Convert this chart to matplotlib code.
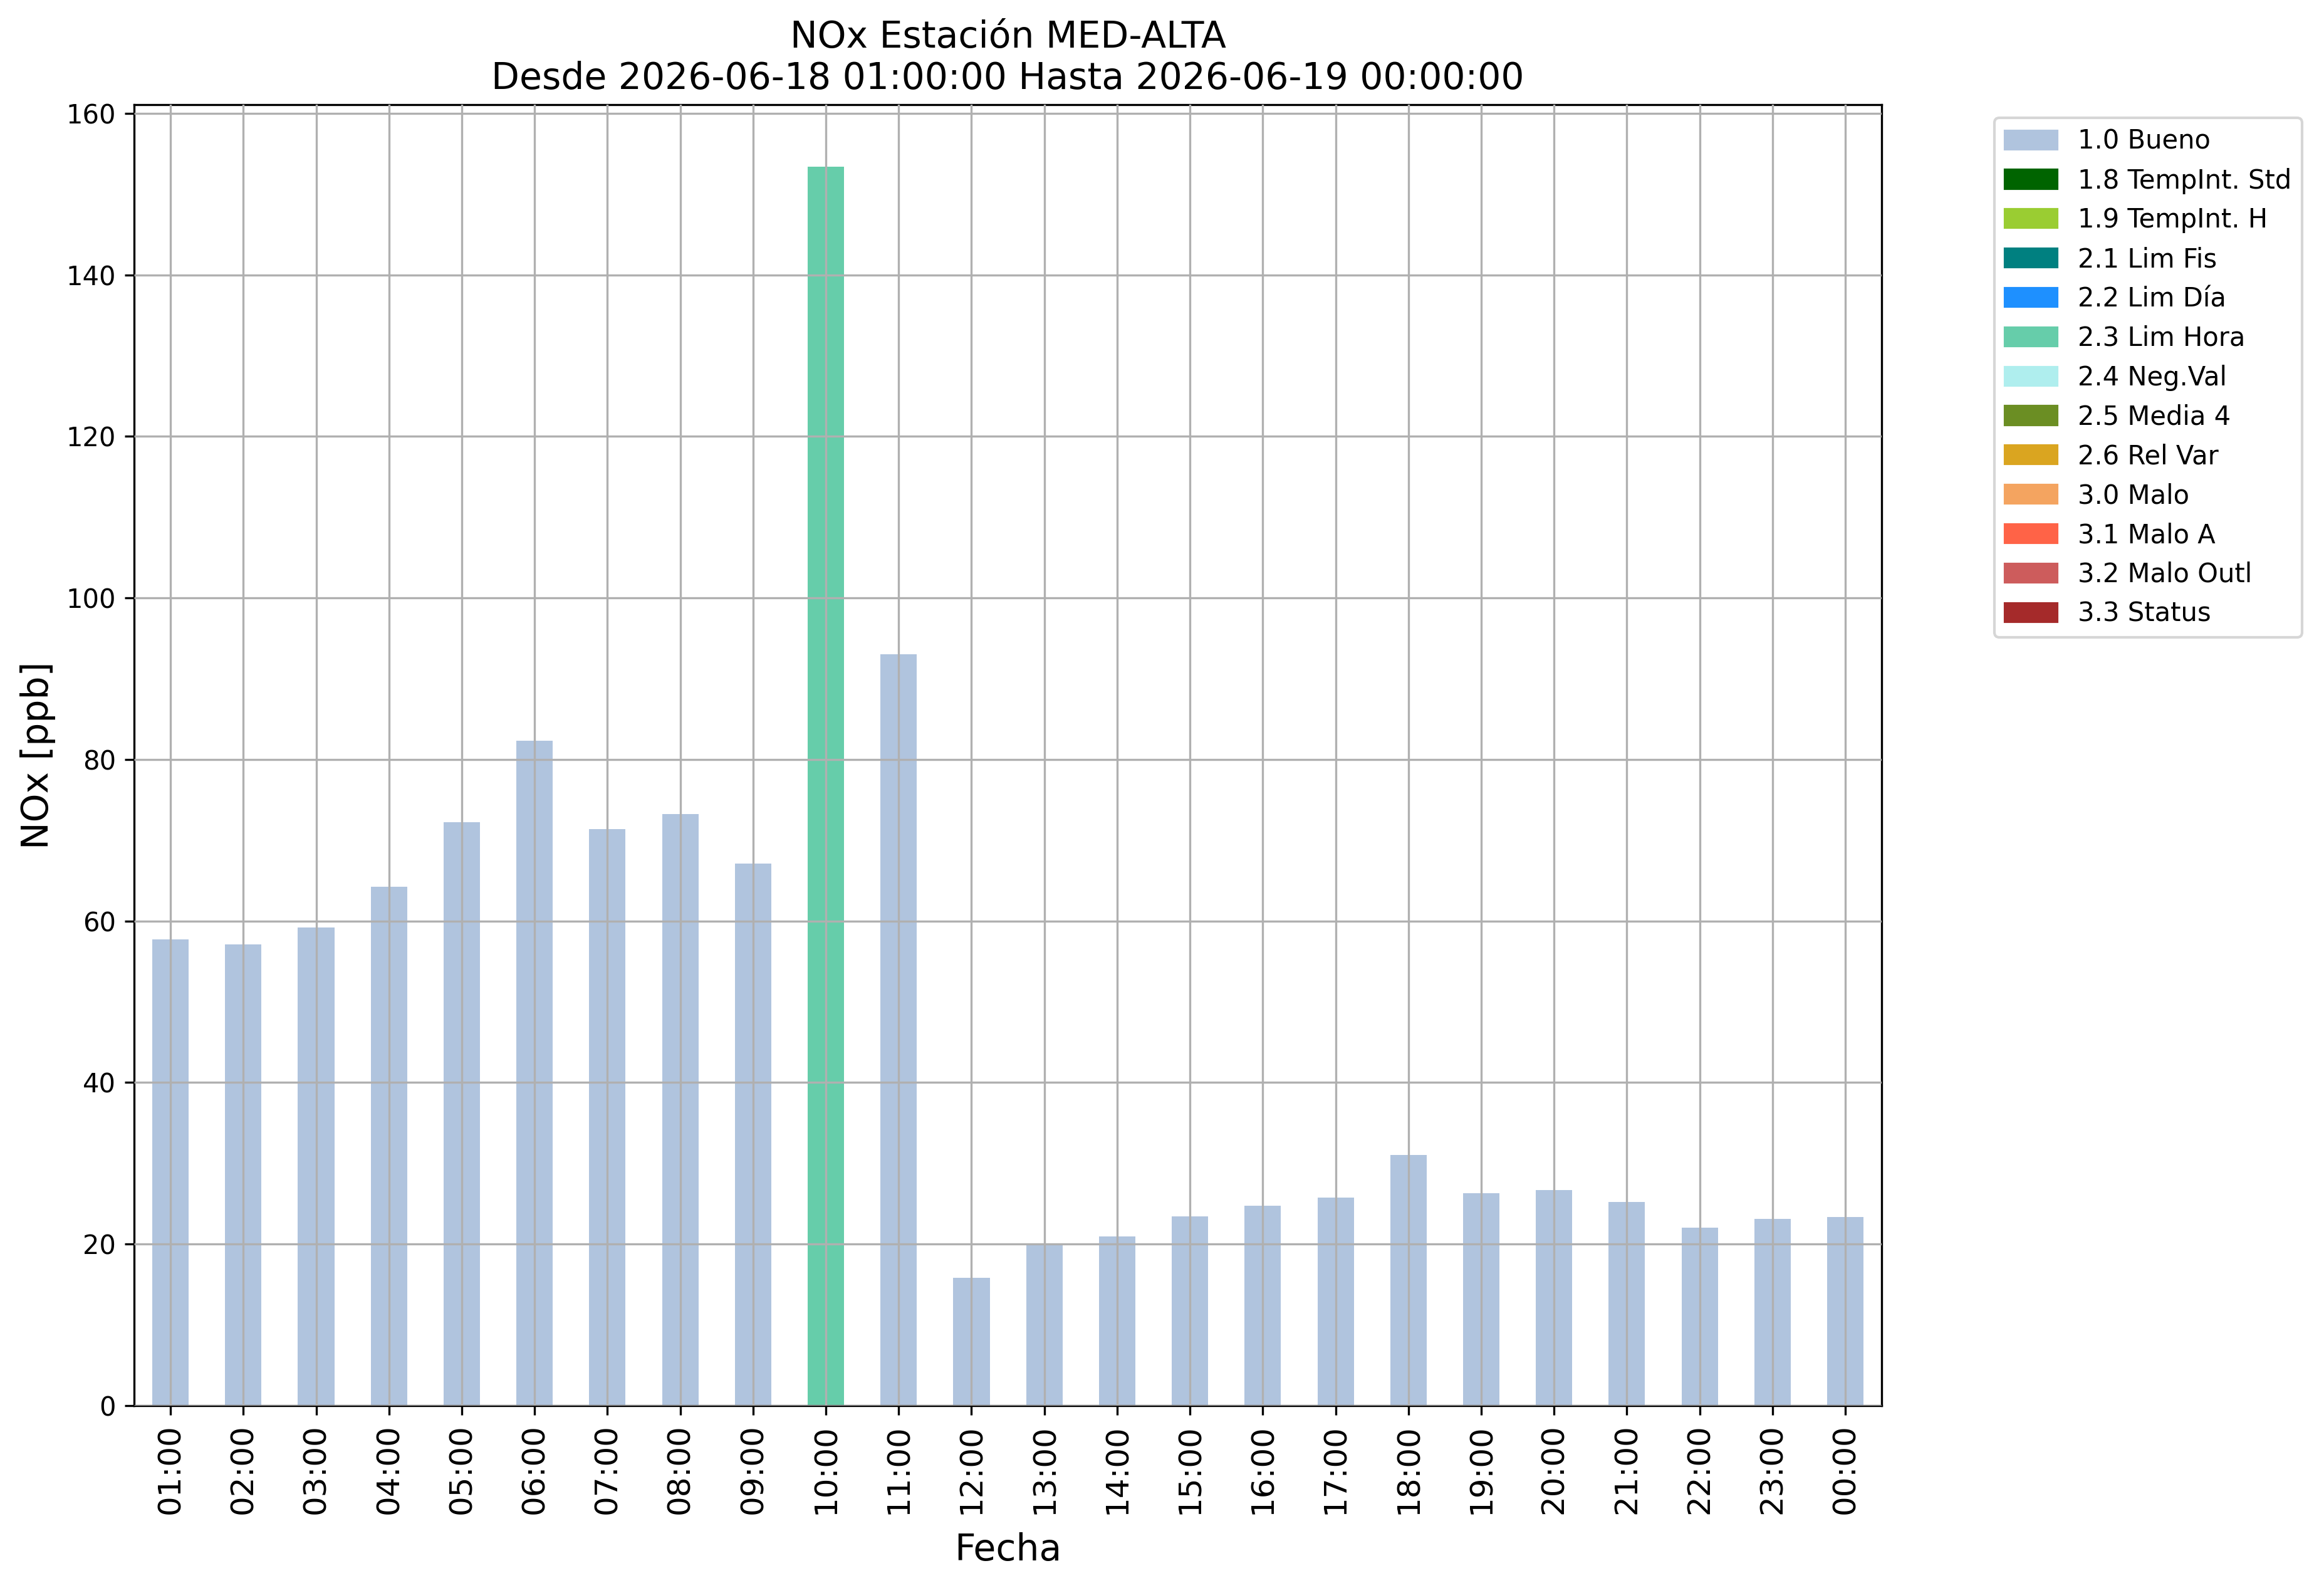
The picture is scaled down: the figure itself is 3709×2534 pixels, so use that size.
import matplotlib
matplotlib.use('Agg')
import matplotlib.pyplot as plt
import matplotlib.patches as mpatches
import numpy as np

horas = ['01:00', '02:00', '03:00', '04:00', '05:00', '06:00', '07:00', '08:00',
         '09:00', '10:00', '11:00', '12:00', '13:00', '14:00', '15:00', '16:00',
         '17:00', '18:00', '19:00', '20:00', '21:00', '22:00', '23:00', '00:00']
nox = [57.7, 57.1, 59.2, 64.2, 72.2, 82.3, 71.4, 73.2, 67.1, 153.4, 93.0, 15.8,
       19.9, 20.9, 23.4, 24.7, 25.7, 31.0, 26.3, 26.7, 25.2, 22.0, 23.1, 23.3]
# flag de validacion por hora
flags = ['1.0 Bueno'] * 9 + ['2.3 Lim Hora'] + ['1.0 Bueno'] * 14

categorias = ['1.0 Bueno', '1.8 TempInt. Std', '1.9 TempInt. H', '2.1 Lim Fis',
              '2.2 Lim Día', '2.3 Lim Hora', '2.4 Neg.Val', '2.5 Media 4',
              '2.6 Rel Var', '3.0 Malo', '3.1 Malo A', '3.2 Malo Outl', '3.3 Status']
colores = ['lightsteelblue', 'darkgreen', 'yellowgreen', 'teal', 'dodgerblue',
           'mediumaquamarine', 'paleturquoise', 'olivedrab', 'goldenrod',
           'sandybrown', 'tomato', 'indianred', 'brown']

fig = plt.figure(figsize=(3709 / 300, 2534 / 300), dpi=300)
ax = fig.add_axes([0.0577, 0.115, 0.752, 0.819])

x = np.arange(len(horas))
fondo = np.zeros(len(horas))
for cat, col in zip(categorias, colores):
    vals = np.array([v if f == cat else 0.0 for v, f in zip(nox, flags)])
    ax.bar(x, vals, width=0.5, bottom=fondo, color=col, zorder=2)
    fondo += vals

ax.set_xlim(-0.5, len(horas) - 0.5)
ax.set_ylim(0, max(nox) * 1.05)
ax.set_xticks(x)
ax.set_xticklabels(horas, rotation=90, fontsize=12)
ax.tick_params(axis='y', labelsize=10)
ax.grid(True, zorder=3)
ax.set_axisbelow(False)

ax.set_xlabel('Fecha', fontsize=14, labelpad=7)
ax.set_ylabel('NOx [ppb]', fontsize=14)
ax.set_title('NOx Estación MED-ALTA\nDesde 2026-06-18 01:00:00 Hasta 2026-06-19 00:00:00',
             fontsize=14)

handles = [mpatches.Patch(color=c, label=l) for l, c in zip(categorias, colores)]
ax.legend(handles=handles, bbox_to_anchor=(1.057, 1), loc='upper left', fontsize=10)

fig.savefig('out.png', dpi=300)
